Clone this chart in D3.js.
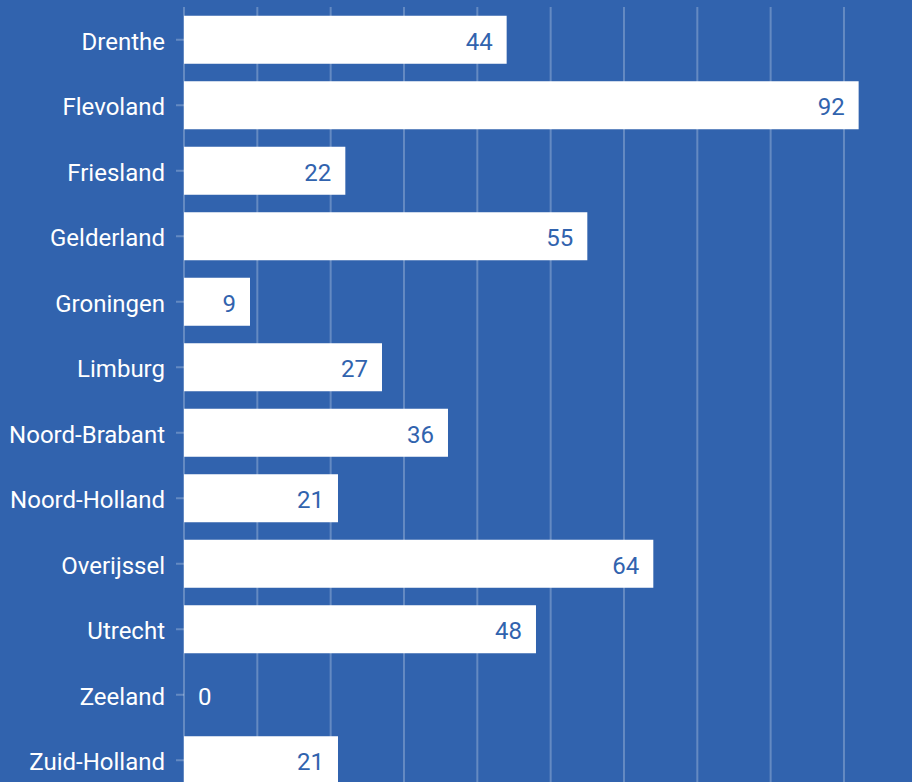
<!DOCTYPE html>
<html>
<head>
<meta charset="utf-8">
<script src="https://cdn.jsdelivr.net/npm/d3@7"></script>
<style>
  html, body { margin: 0; padding: 0; background: #3163ae; overflow: hidden; }
  svg { display: block; font-family: Roboto, "Noto Sans", sans-serif; }
</style>
</head>
<body>
<svg id="chart" width="912" height="782"></svg>
<script>
// Provinces and their values
const provinces = ["Drenthe", "Flevoland", "Friesland", "Gelderland", "Groningen", "Limburg",
  "Noord-Brabant", "Noord-Holland", "Overijssel", "Utrecht", "Zeeland", "Zuid-Holland"];
const values = [44, 92, 22, 55, 9, 27, 36, 21, 64, 48, 0, 21];
const gridTicks = [0, 10, 20, 30, 40, 50, 60, 70, 80, 90];

const bg = "#3163ae";
const svg = d3.select("#chart");
const W = 912, H = 782;
const marginLeft = 184, marginTop = 7;

const x = d3.scaleLinear().domain([0, 100]).range([marginLeft, marginLeft + 733.3]);
const y = d3.scaleBand().domain(provinces)
  .range([marginTop, marginTop + 786])
  .paddingInner(0.267).paddingOuter(0.1335);

svg.append("rect").attr("width", W).attr("height", H).attr("fill", bg);

// vertical grid lines
svg.append("g")
  .selectAll("line").data(gridTicks).join("line")
  .attr("x1", d => x(d)).attr("x2", d => x(d))
  .attr("y1", marginTop).attr("y2", H)
  .attr("stroke", "rgba(255,255,255,0.25)").attr("stroke-width", 2);

// category axis
const yAxis = svg.append("g")
  .attr("transform", `translate(${marginLeft},0)`)
  .call(d3.axisLeft(y).tickSize(8).tickPadding(11));
yAxis.select(".domain").remove();
yAxis.selectAll(".tick line").attr("stroke", "rgba(255,255,255,0.25)").attr("stroke-width", 2);
yAxis.selectAll(".tick text").attr("fill", "#ffffff")
  .attr("dy", "0.42em")
  .style("font-size", "24px").style("font-family", "Roboto, sans-serif");

const data = provinces.map((p, i) => ({ p, v: values[i] }));

// bars
svg.append("g").selectAll("rect").data(data).join("rect")
  .attr("x", x(0))
  .attr("y", d => y(d.p))
  .attr("width", d => x(d.v) - x(0))
  .attr("height", y.bandwidth())
  .attr("fill", "#ffffff");

// value labels
svg.append("g").selectAll("text").data(data).join("text")
  .attr("x", d => d.v > 0 ? x(d.v) - 14 : x(0) + 14)
  .attr("y", d => y(d.p) + y.bandwidth() / 2)
  .attr("dy", "0.42em")
  .attr("text-anchor", d => d.v > 0 ? "end" : "start")
  .attr("fill", d => d.v > 0 ? bg : "#ffffff")
  .style("font-size", "24px")
  .text(d => d.v);
</script>
</body>
</html>
